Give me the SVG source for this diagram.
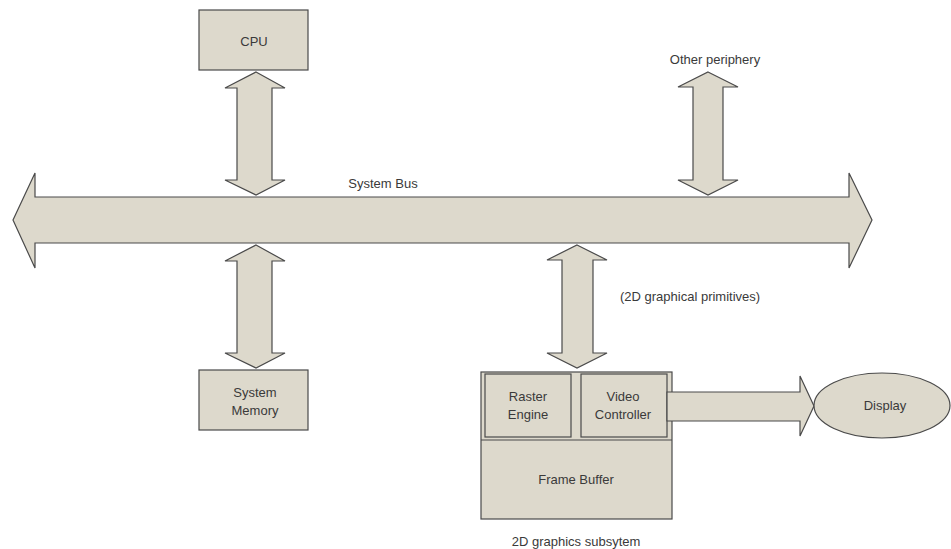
<svg xmlns="http://www.w3.org/2000/svg" width="951" height="549" viewBox="0 0 951 549">
<style>
.s{fill:#DDD9CC;stroke:#4a4a4a;stroke-width:1.2}
.t{font-family:"Liberation Sans",Arial,sans-serif;font-size:13px;fill:#3a3a3a;text-anchor:middle}
.l{text-anchor:start}
</style>
<rect width="951" height="549" fill="#ffffff"/>
<g id="connectors">
<polygon id="system-bus" class="s" points="13,220 35,173 35,197 849,197 849,173 872,220 849,268 849,243 35,243 35,268"/>
<text class="t" x="383" y="188">System Bus</text>
<polygon class="s" points="256,72 285,88 272,88 272,180 285,180 256,195 225,180 237,180 237,88 225,88"/>
<polygon class="s" points="256,245 285,261 272,261 272,353 285,353 256,368 225,353 237,353 237,261 225,261"/>
<polygon class="s" points="577,245 607,260 593,260 593,353 607,353 577,368 547,353 562,353 562,260 547,260"/>
<text class="t l" x="620" y="301">(2D graphical primitives)</text>
<polygon class="s" points="708,72 738,87 723,87 723,180 738,180 708,195 678,180 693,180 693,87 678,87"/>
</g>
<g id="cpu">
<rect class="s" x="199" y="10" width="109" height="60"/>
<text class="t" x="254" y="46">CPU</text>
</g>
<g id="other-periphery">
<text class="t" x="715" y="64">Other periphery</text>
</g>
<g id="system-memory">
<rect class="s" x="199" y="370" width="109" height="60"/>
<text class="t" x="255" y="397">System</text>
<text class="t" x="255" y="415">Memory</text>
</g>
<g id="graphics-subsystem">
<rect class="s" x="481" y="372" width="191" height="147"/>
<line x1="481" y1="440" x2="672" y2="440" stroke="#4a4a4a" stroke-width="1.2"/>
<text class="t" x="576" y="484">Frame Buffer</text>
<text class="t" x="576" y="546">2D graphics subsytem</text>
</g>
<g id="raster-engine">
<rect class="s" x="485" y="374" width="86" height="63"/>
<text class="t" x="528" y="401">Raster</text>
<text class="t" x="528" y="419">Engine</text>
</g>
<g id="video-controller">
<rect class="s" x="581" y="374" width="86" height="63"/>
<text class="t" x="623" y="401">Video</text>
<text class="t" x="623" y="419">Controller</text>
</g>
<g id="display-link">
<polygon class="s" points="667,392 800,392 800,376 814,406 800,436 800,421 667,421"/>
</g>
<g id="display">
<ellipse class="s" cx="882" cy="405.5" rx="68" ry="32.5"/>
<text class="t" x="885" y="410">Display</text>
</g>
</svg>
